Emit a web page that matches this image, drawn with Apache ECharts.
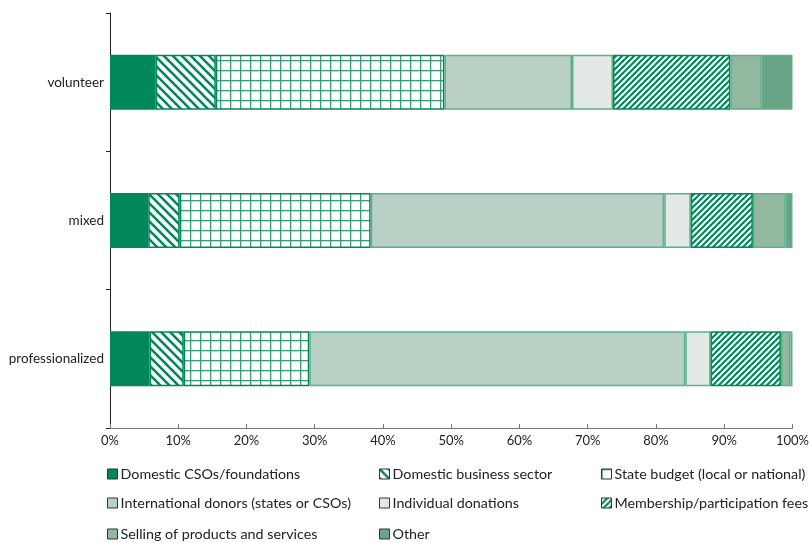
<!DOCTYPE html>
<html>
<head>
<meta charset="utf-8">
<script src="https://cdn.jsdelivr.net/npm/echarts@6/dist/echarts.min.js"></script>
<style>
html,body{margin:0;padding:0;background:#fff;}
#chart{width:812px;height:543px;}
</style>
</head>
<body>
<div id="chart"></div>
<script>
const categories = ['volunteer', 'mixed', 'professionalized'];
const seriesNames = [
  'Domestic CSOs/foundations',
  'Domestic business sector',
  'State budget (local or national)',
  'International donors (states or CSOs)',
  'Individual donations',
  'Membership/participation fees',
  'Selling of products and services',
  'Other'
];
const domesticCSOs   = [6.7, 5.6, 5.8];
const domesticBiz    = [8.8, 4.6, 5.0];
const stateBudget    = [33.5, 28.0, 18.4];
const international  = [18.7, 43.0, 55.1];
const individual     = [6.0, 3.9, 3.7];
const membership     = [17.2, 9.1, 10.3];
const selling        = [4.6, 4.8, 1.4];
const other          = [4.5, 1.0, 0.3];
const xTicks = [0, 10, 20, 30, 40, 50, 60, 70, 80, 90, 100];

const GREEN = '#00875a';

function makePattern(kind) {
  const c = document.createElement('canvas');
  const ctx = c.getContext('2d');
  if (kind === 'back') {
    const s = 9;
    c.width = s; c.height = s;
    ctx.fillStyle = '#fff'; ctx.fillRect(0, 0, s, s);
    ctx.strokeStyle = GREEN; ctx.lineWidth = 2.6;
    for (let k = -1; k <= 1; k++) {
      ctx.beginPath();
      ctx.moveTo(k * s - 2, -2); ctx.lineTo(k * s + s + 2, s + 2);
      ctx.stroke();
    }
  } else if (kind === 'fwd') {
    const s = 6;
    c.width = s; c.height = s;
    ctx.fillStyle = '#fff'; ctx.fillRect(0, 0, s, s);
    ctx.strokeStyle = GREEN; ctx.lineWidth = 2.2;
    for (let k = -1; k <= 1; k++) {
      ctx.beginPath();
      ctx.moveTo(k * s - 2, s + 2); ctx.lineTo(k * s + s + 2, -2);
      ctx.stroke();
    }
  } else if (kind === 'grid') {
    const s = 10;
    c.width = s; c.height = s;
    ctx.fillStyle = '#fff'; ctx.fillRect(0, 0, s, s);
    ctx.fillStyle = '#3a9d77';
    ctx.fillRect(0, 0, s, 1.3);
    ctx.fillRect(0, 0, 1.3, s);
  }
  return { image: c, repeat: 'repeat' };
}

const colors = [
  GREEN,
  makePattern('back'),
  makePattern('grid'),
  '#b9d1c4',
  '#e3eae6',
  makePattern('fwd'),
  '#93b8a0',
  '#6aa486'
];
const borderColors = [GREEN, GREEN, GREEN, '#5fae8d', '#5fae8d', GREEN, '#5fae8d', '#5fae8d'];
const dataArrays = [domesticCSOs, domesticBiz, stateBudget, international, individual, membership, selling, other];

const series = seriesNames.map((name, i) => ({
  name: name,
  type: 'bar',
  stack: 'total',
  barWidth: 55,
  data: dataArrays[i],
  itemStyle: { color: colors[i], borderColor: borderColors[i], borderWidth: 1.5 },
  emphasis: { disabled: true }
}));

const FONT = 'Lato';
// legend slots: [left, top] for each series name
const legendPos = [
  [102, 462], [374, 462], [596, 462],
  [102, 491], [374, 491], [596, 491],
  [102, 522], [374, 522]
];
const legends = seriesNames.map((name, i) => ({
  left: legendPos[i][0],
  top: legendPos[i][1],
  orient: 'horizontal',
  itemWidth: 10,
  itemHeight: 10,
  icon: 'rect',
  itemStyle: { borderColor: '#333', borderWidth: 1 },
  textStyle: { fontFamily: FONT, fontSize: 14.3, color: '#222', padding: [0, 0, 0, -2] },
  selectedMode: false,
  data: [name]
}));

const chart = echarts.init(document.getElementById('chart'), null, { renderer: 'canvas' });
chart.setOption({
  animation: false,
  backgroundColor: '#fff',
  grid: { left: 110, right: 15, top: 13, bottom: 115, containLabel: false },
  xAxis: {
    type: 'value',
    min: 0, max: 100, interval: 10,
    axisLine: { show: true, lineStyle: { color: '#777', width: 1 } },
    axisTick: { show: true, inside: true, length: 4, lineStyle: { color: '#777' } },
    splitLine: { show: false },
    axisLabel: {
      fontFamily: FONT, fontSize: 13, color: '#222', margin: 6,
      formatter: v => xTicks.indexOf(v) >= 0 ? v + '%' : ''
    }
  },
  yAxis: {
    type: 'category',
    inverse: true,
    data: categories,
    axisLine: { show: true, lineStyle: { color: '#222', width: 1 } },
    axisTick: { show: true, length: 4, lineStyle: { color: '#222' } },
    axisLabel: { fontFamily: FONT, fontSize: 13.5, color: '#222', margin: 6 }
  },
  legend: legends,
  series: series
});
</script>
</body>
</html>
